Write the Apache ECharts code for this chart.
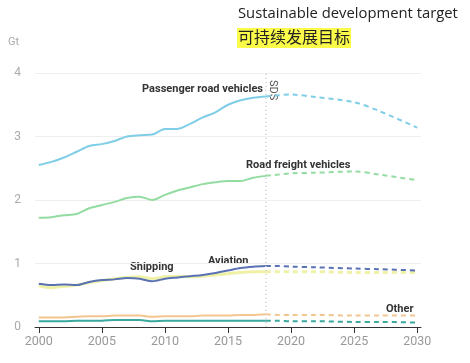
<!DOCTYPE html>
<html><head><meta charset="utf-8">
<script src="https://cdn.jsdelivr.net/npm/echarts@6/dist/echarts.min.js"></script>
<style>html,body{margin:0;padding:0;background:#fff}#c{width:470px;height:363px}</style>
</head><body><div id="c"></div>
<script>
const histYears = [2000,2001,2002,2003,2004,2005,2006,2007,2008,2009,2010,2011,2012,2013,2014,2015,2016,2017,2018];
const projYears = [2018,2019,2020,2022,2025,2027,2030];
const xTicks = [2000,2005,2010,2015,2020,2025,2030];

const passengerHist = [2.55,2.6,2.67,2.76,2.85,2.88,2.93,3.0,3.02,3.03,3.12,3.12,3.2,3.3,3.38,3.5,3.57,3.61,3.63];
const passengerProj = [3.63,3.65,3.66,3.62,3.54,3.4,3.14];
const freightHist = [1.72,1.73,1.76,1.78,1.87,1.92,1.97,2.03,2.05,2.0,2.08,2.15,2.2,2.25,2.28,2.3,2.3,2.35,2.38];
const freightProj = [2.38,2.4,2.42,2.43,2.45,2.4,2.31];
const aviationHist = [0.68,0.66,0.67,0.66,0.71,0.74,0.75,0.77,0.76,0.72,0.76,0.78,0.8,0.82,0.85,0.89,0.93,0.95,0.96];
const aviationProj = [0.96,0.96,0.95,0.94,0.92,0.91,0.89];
const shippingHist = [0.65,0.62,0.64,0.66,0.7,0.73,0.76,0.78,0.79,0.76,0.79,0.8,0.79,0.8,0.82,0.84,0.86,0.87,0.87];
const shippingProj = [0.87,0.87,0.87,0.87,0.86,0.86,0.86];
const otherHist = [0.15,0.15,0.15,0.16,0.17,0.17,0.18,0.18,0.18,0.16,0.17,0.17,0.17,0.18,0.18,0.18,0.19,0.19,0.2];
const otherProj = [0.2,0.19,0.19,0.19,0.18,0.18,0.18];
const tealHist = [0.09,0.09,0.09,0.1,0.1,0.1,0.11,0.11,0.11,0.09,0.1,0.1,0.1,0.1,0.1,0.1,0.1,0.1,0.1];
const tealProj = [0.1,0.1,0.09,0.09,0.08,0.08,0.07];
const sdsYear = 2018;

const colors = {passenger:'#7fcde6', freight:'#93dca2', aviation:'#5a72b4', shipping:'#eef1a6', other:'#f3c690', teal:'#3aa89d'};

function pair(xs, ys){ return xs.map((x,i)=>[x, ys[i]]); }
function mk(name, hist, proj, color, width){
  return [
    {name, type:'line', data:pair(histYears,hist), smooth:0.3, symbol:'none', lineStyle:{color, width}, z:3},
    {name:name+' proj', type:'line', data:pair(projYears,proj), smooth:0.3, symbol:'none', lineStyle:{color, width, type:[5,4]}, z:3}
  ];
}

const chart = echarts.init(document.getElementById('c'));
const series = [
  ...mk('Shipping', shippingHist, shippingProj, colors.shipping, 3),
  ...mk('Other', otherHist, otherProj, colors.other, 2),
  ...mk('Teal', tealHist, tealProj, colors.teal, 2),
  ...mk('Passenger road vehicles', passengerHist, passengerProj, colors.passenger, 2),
  ...mk('Road freight vehicles', freightHist, freightProj, colors.freight, 2),
  ...mk('Aviation', aviationHist, aviationProj, colors.aviation, 2),
];
series[0].markLine = {
  silent:true, symbol:['none','none'], label:{show:false},
  lineStyle:{color:'#d0d0d0', type:[1,3], width:1.5},
  data:[{xAxis:sdsYear}]
};

const lbl = (text,x,y,align) => ({type:'text', x, y, style:{text, font:'bold 11px Roboto, sans-serif', fill:'#333', textAlign:align||'left', textVerticalAlign:'middle'}});

chart.setOption({
  animation:false,
  grid:{left:35, right:49, top:73, bottom:36},
  xAxis:{type:'value', min:1999.7, max:2030.3,
    axisLine:{lineStyle:{color:'#333', width:1}},
    axisTick:{show:true, length:6, lineStyle:{color:'#333'}, customValues:xTicks},
    axisLabel:{color:'#999', fontSize:12.5, margin:8, fontFamily:'Roboto, sans-serif', customValues:xTicks, formatter:v=>String(v)},
    splitLine:{show:false}},
  yAxis:{type:'value', min:0, max:4, interval:1,
    axisLine:{show:false}, axisTick:{show:false},
    axisLabel:{color:'#aaa', fontSize:12, margin:14, fontFamily:'Roboto, sans-serif'},
    splitLine:{lineStyle:{color:'#eee', width:1}}},
  series,
  graphic:[
    {type:'text', left:238, top:6, style:{text:'Sustainable development target', font:'14.8px "Open Sans", sans-serif', fill:'#222'}},
    {type:'rect', left:237, top:28, shape:{width:114, height:20}, style:{fill:'#fbfb4a'}},
    {type:'text', left:238, top:29, style:{text:'可持续发展目标', font:'16px "Noto Sans CJK SC", sans-serif', fill:'#222'}},
    {type:'text', left:8, top:37, style:{text:'Gt', font:'11px Roboto, sans-serif', fill:'#aaa'}},
    lbl('Passenger road vehicles',263,89,'right'),
    lbl('Road freight vehicles',246,165),
    lbl('Shipping',130,267),
    lbl('Aviation',208,261),
    lbl('Other',386,309),
    {type:'text', x:278, y:80, rotation:-Math.PI/2, style:{text:'SDS', font:'11px Roboto, sans-serif', fill:'#555'}}
  ]
});
</script></body></html>
